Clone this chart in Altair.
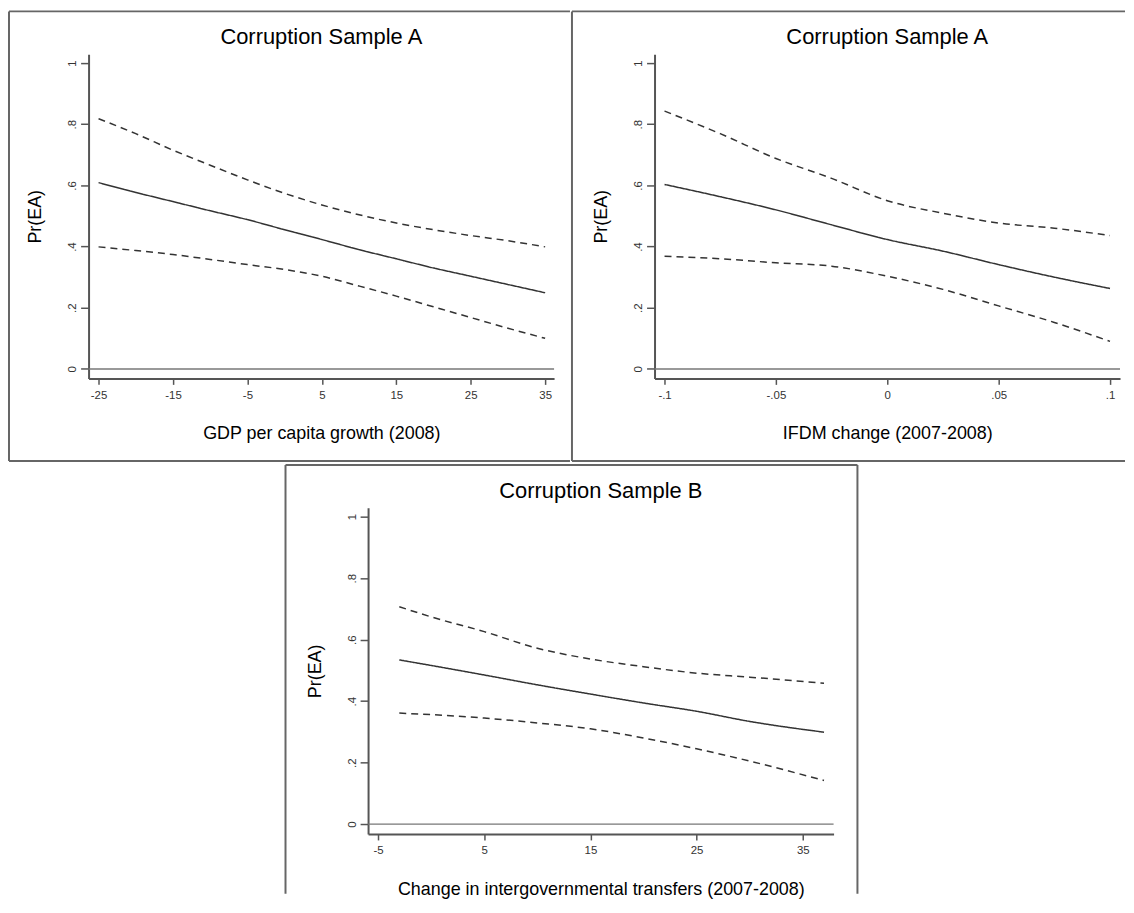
import altair as alt
import pandas as pd

FONT = "Liberation Sans"

# ---- Panel 1: GDP per capita growth (Sample A) ----
p1_x = [-25, -20, -15, -10, -5, 0, 5, 10, 15, 20, 25, 30, 35]
p1_mid = [0.609, 0.577, 0.547, 0.517, 0.488, 0.455, 0.423, 0.390, 0.360, 0.330, 0.303, 0.276, 0.249]
p1_hi = [0.818, 0.769, 0.715, 0.666, 0.618, 0.574, 0.536, 0.504, 0.477, 0.455, 0.436, 0.419, 0.399]
p1_lo = [0.399, 0.387, 0.374, 0.358, 0.341, 0.325, 0.303, 0.271, 0.238, 0.203, 0.168, 0.133, 0.100]
p1_ticks = [-25, -15, -5, 5, 15, 25, 35]

# ---- Panel 2: IFDM change (Sample A) ----
p2_x = [-0.1, -0.075, -0.05, -0.025, 0, 0.025, 0.05, 0.075, 0.1]
p2_mid = [0.603, 0.563, 0.520, 0.471, 0.423, 0.385, 0.341, 0.300, 0.263]
p2_hi = [0.843, 0.769, 0.688, 0.623, 0.550, 0.509, 0.477, 0.460, 0.436]
p2_lo = [0.368, 0.360, 0.347, 0.336, 0.303, 0.260, 0.206, 0.152, 0.090]
p2_ticks = [-0.1, -0.05, 0, 0.05, 0.1]

# ---- Panel 3: Change in intergovernmental transfers (Sample B) ----
p3_x = [-3, 0, 5, 10, 15, 20, 25, 30, 37]
p3_mid = [0.534, 0.516, 0.485, 0.453, 0.423, 0.394, 0.367, 0.334, 0.299]
p3_hi = [0.707, 0.674, 0.626, 0.572, 0.537, 0.512, 0.491, 0.478, 0.458]
p3_lo = [0.361, 0.356, 0.345, 0.329, 0.310, 0.280, 0.245, 0.205, 0.142]
p3_ticks = [-5, 5, 15, 25, 35]

y_ticks = [0, 0.2, 0.4, 0.6, 0.8, 1]
LABEL_EXPR = "replace(toString(datum.value), '0.', '.')"
ONE = pd.DataFrame({"k": [0]})
FRAME_COLOR = "#666"


def hseg(y, x1, x2, opacity=1.0):
    return alt.Chart(ONE).mark_rule(color=FRAME_COLOR, strokeWidth=2, strokeOpacity=opacity).encode(
        y=alt.value(y), x=alt.value(x1), x2=alt.value(x2))


def vseg(x, y1, y2, opacity=1.0):
    return alt.Chart(ONE).mark_rule(color=FRAME_COLOR, strokeWidth=2, strokeOpacity=opacity).encode(
        x=alt.value(x), y=alt.value(y1), y2=alt.value(y2))


def panel(xs, mid, hi, lo, title, xtitle, xdomain, xticks, ydomain, w, h, frame_parts):
    rows = []
    for name, vals in (("mid", mid), ("upper", hi), ("lower", lo)):
        for xv, yv in zip(xs, vals):
            rows.append({"x": xv, "y": yv, "band": name})
    df = pd.DataFrame(rows)

    xaxis = alt.Axis(
        values=xticks, labelExpr=LABEL_EXPR, title=xtitle, grid=False,
        tickSize=6, labelPadding=5, labelFontSize=11.5, labelFont=FONT,
        labelColor="#333", domainColor="#555", domainWidth=2,
        tickColor="#555", tickWidth=1.5, titleFontSize=18,
        titleFont=FONT, titleFontWeight="normal", titleColor="black",
        titlePadding=24, labelFlush=False, labelOverlap=False,
    )
    yaxis = alt.Axis(
        values=y_ticks, labelExpr=LABEL_EXPR, title="Pr(EA)", grid=False,
        tickSize=8, labelPadding=3, labelFontSize=11.5, labelFont=FONT,
        labelColor="#333", labelAngle=270, labelAlign="center",
        labelBaseline="bottom", domainColor="#555", domainWidth=2,
        tickColor="#555", tickWidth=1.5, titleFontSize=18, titleFont=FONT,
        titleFontWeight="normal", titleColor="black", titlePadding=22,
        labelFlush=False, labelOverlap=False,
    )

    lines = alt.Chart(df).mark_line(strokeWidth=1.5, color="#333", interpolate="monotone").encode(
        x=alt.X("x:Q", scale=alt.Scale(domain=xdomain, nice=False, zero=False), axis=xaxis),
        y=alt.Y("y:Q", scale=alt.Scale(domain=ydomain, nice=False, zero=False), axis=yaxis),
        detail="band:N",
        strokeDash=alt.StrokeDash(
            "band:N",
            scale=alt.Scale(domain=["mid", "upper", "lower"], range=[[1, 0], [7, 5], [7, 5]]),
            legend=None,
        ),
    )

    zero = alt.Chart(ONE).mark_rule(color="#777", strokeWidth=1.5).encode(
        y=alt.datum(0, type="quantitative"), x=alt.value(0), x2=alt.value(w)
    )

    head = alt.Chart(pd.DataFrame({"t": [title]})).mark_text(
        font=FONT, fontSize=22, color="black", align="center", baseline="middle"
    ).encode(text="t:N", x=alt.value(w / 2), y=alt.value(-17))

    return alt.layer(*frame_parts, zero, head, lines).properties(width=w, height=h)


W = 468
H1 = 326
H3 = 328

# frames (pixel offsets relative to each plot area)
f1 = [hseg(-43, -80, W + 16), hseg(H1 + 83, -80, W + 16), vseg(-80, -43, H1 + 83)]
f2 = [hseg(-43, -83, W + 5), hseg(H1 + 83, -83, W + 5), vseg(-83, -43, H1 + 83)]
f3 = [hseg(-43, -83, W + 24), vseg(-83, -43, H3 + 60), vseg(W + 24, -43, H3 + 60)]

p1 = panel(p1_x, p1_mid, p1_hi, p1_lo, "Corruption Sample A", "GDP per capita growth (2008)",
           [-26.34, 36.2], p1_ticks, [-0.031, 1.029], W, H1, f1)
p2 = panel(p2_x, p2_mid, p2_hi, p2_lo, "Corruption Sample A", "IFDM change (2007-2008)",
           [-0.1045, 0.1045], p2_ticks, [-0.031, 1.029], W, H1, f2)
p3 = panel(p3_x, p3_mid, p3_hi, p3_lo, "Corruption Sample B",
           "Change in intergovernmental transfers (2007-2008)",
           [-5.94, 37.9], p3_ticks, [-0.032, 1.029], W, H3, f3)

SP = 197
spacer = alt.Chart(ONE).mark_rule(strokeOpacity=0).encode(
    x=alt.value(0), x2=alt.value(SP), y=alt.value(0)
).properties(width=SP, height=10)

row1 = alt.hconcat(p1, p2, spacing=0).resolve_scale(
    x="independent", y="independent", strokeDash="independent")
row2 = alt.hconcat(spacer, p3, spacing=0).resolve_scale(
    x="independent", y="independent", strokeDash="independent")

chart = alt.vconcat(row1, row2, spacing=2).resolve_scale(
    x="independent", y="independent", strokeDash="independent"
).properties(padding=0, background="white").configure_view(strokeOpacity=0, strokeWidth=0)

chart.save("out.html", embed_options={"renderer": "svg", "actions": False})
